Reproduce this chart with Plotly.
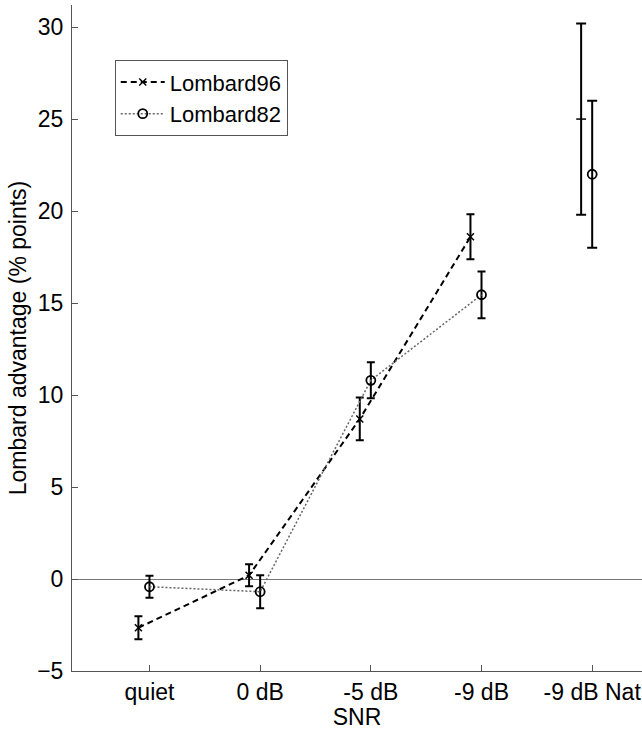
import plotly.graph_objects as go

categories = ["quiet", "0 dB", "-5 dB", "-9 dB", "-9 dB Nat"]
cat_pos = [1, 2, 3, 4, 5]

lombard96 = [-2.65, 0.2, 8.7, 18.6, 25.0]
lombard96_err = [0.63, 0.6, 1.16, 1.22, 5.2]
lombard82 = [-0.42, -0.69, 10.8, 15.45, 22.0]
lombard82_err = [0.6, 0.9, 0.98, 1.27, 4.0]

y_ticks = [-5, 0, 5, 10, 15, 20, 25, 30]

OFF96 = -0.1
OFF82 = 0.0
FONT = "Liberation Sans, Arial, Helvetica, sans-serif"

x96 = [p + OFF96 for p in cat_pos]
x82 = [p + OFF82 for p in cat_pos]

fig = go.Figure()

fig.add_trace(go.Scatter(
    x=x96[:4], y=lombard96[:4], name="Lombard96", mode="lines+markers",
    line=dict(color="black", width=2, dash="6px,4px"),
    marker=dict(symbol="x-thin", size=7, line=dict(color="black", width=1.5), color="black"),
    error_y=dict(type="data", array=lombard96_err[:4], color="black", thickness=2, width=4),
))
fig.add_trace(go.Scatter(
    x=x96[4:], y=lombard96[4:], name="Lombard96", mode="markers", showlegend=False,
    marker=dict(symbol="line-ew", size=7, line=dict(color="black", width=1.5), color="black"),
    error_y=dict(type="data", array=lombard96_err[4:], color="black", thickness=2, width=5),
))
fig.add_trace(go.Scatter(
    x=x82[:4], y=lombard82[:4], name="Lombard82", mode="lines+markers",
    line=dict(color="#666666", width=1.5, dash="2px,2px"),
    marker=dict(symbol="circle-open", size=9, line=dict(color="black", width=1.8), color="black"),
    error_y=dict(type="data", array=lombard82_err[:4], color="black", thickness=2, width=4),
))
fig.add_trace(go.Scatter(
    x=x82[4:], y=lombard82[4:], name="Lombard82", mode="markers", showlegend=False,
    marker=dict(symbol="circle-open", size=9, line=dict(color="black", width=1.8), color="black"),
    error_y=dict(type="data", array=lombard82_err[4:], color="black", thickness=2, width=5),
))

fig.update_layout(
    width=642, height=730,
    margin=dict(l=72, r=0, t=5, b=59),
    paper_bgcolor="white", plot_bgcolor="white",
    font=dict(family=FONT, size=23, color="black"),
    showlegend=True,
    legend=dict(
        x=0.075, y=0.917, xanchor="left", yanchor="top",
        bordercolor="#555555", borderwidth=1, bgcolor="white",
        font=dict(size=22), tracegroupgap=0, itemwidth=44,
    ),
    xaxis=dict(
        range=[0.3, 5.45], tickvals=cat_pos, ticktext=categories,
        ticks="inside", ticklen=6, tickcolor="#555555",
        showline=True, linecolor="#555555", linewidth=1,
        showgrid=False, zeroline=False, automargin=False,
        ticklabelstandoff=0,
        title=dict(text="SNR", standoff=0, font=dict(size=23)),
    ),
    yaxis=dict(
        range=[-5, 31.2], tickvals=y_ticks,
        ticks="inside", ticklen=6, tickcolor="#555555",
        showline=True, linecolor="#555555", linewidth=1,
        showgrid=False, zeroline=True, zerolinecolor="#777777", zerolinewidth=1,
        automargin=False,
        ticklabelstandoff=3,
        title=dict(text="Lombard advantage (% points)", standoff=4, font=dict(size=23)),
    ),
)

fig.write_html(
    "out.html",
    config={"displayModeBar": False},
    post_script="document.body.style.margin='0';document.body.style.padding='0';",
)
